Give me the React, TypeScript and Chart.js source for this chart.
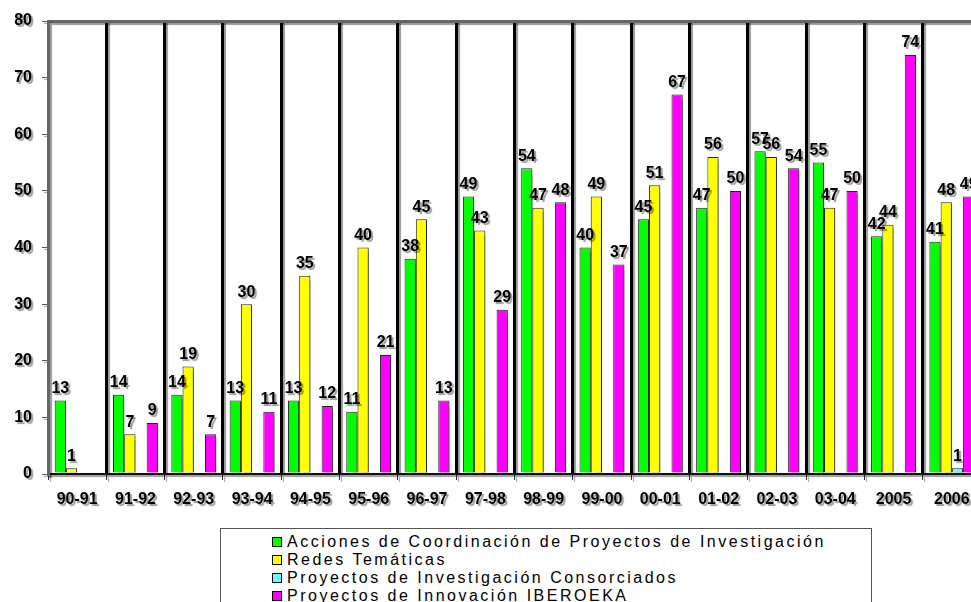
import React, { useEffect, useRef } from "react";
import { Chart, registerables } from "chart.js";

Chart.register(...registerables);

const categories = ["90-91", "91-92", "92-93", "93-94", "94-95", "95-96", "96-97", "97-98", "98-99", "99-00", "00-01", "01-02", "02-03", "03-04", "2005", "2006"];
const accionesCoordinacion = [13, 14, 14, 13, 13, 11, 38, 49, 54, 40, 45, 47, 57, 55, 42, 41];
const redesTematicas = [1, 7, 19, 30, 35, 40, 45, 43, 47, 49, 51, 56, 56, 47, 44, 48];
const proyectosConsorciados = [null, null, null, null, null, null, null, null, null, null, null, null, null, null, null, 1];
const proyectosIberoeka = [null, 9, 7, 11, 12, 21, 13, 29, 48, 37, 67, 50, 54, 50, 74, 49];
const yTicks = [0, 10, 20, 30, 40, 50, 60, 70, 80];

const seriesNames = [
  "Acciones de Coordinación de Proyectos de Investigación",
  "Redes Temáticas",
  "Proyectos de Investigación Consorciados",
  "Proyectos de Innovación IBEROEKA",
];
const seriesColors = ["#00FF00", "#FFFF00", "#66FFFF", "#FF00FF"];

const shadowPlugin = {
  id: "globalShadow",
  beforeDraw(chart: any) {
    const ctx = chart.ctx;
    ctx.save();
    ctx.shadowColor = "rgba(0,0,0,0.4)";
    ctx.shadowOffsetX = 2;
    ctx.shadowOffsetY = 2;
    ctx.shadowBlur = 1;
  },
  afterDraw(chart: any) {
    chart.ctx.restore();
  },
};

const valueLabelPlugin = {
  id: "valueLabels",
  afterDatasetsDraw(chart: any) {
    const ctx = chart.ctx;
    ctx.save();
    ctx.font = "bold 16px 'Liberation Sans', Arial, sans-serif";
    ctx.fillStyle = "#000";
    ctx.textAlign = "center";
    ctx.textBaseline = "bottom";
    chart.data.datasets.forEach((ds: any, di: number) => {
      const meta = chart.getDatasetMeta(di);
      meta.data.forEach((bar: any, i: number) => {
        const v = ds.data[i];
        if (v === null || v === undefined) return;
        ctx.fillText(String(v), bar.x, bar.y - 4);
      });
    });
    ctx.restore();
  },
};

export default function App() {
  const ref = useRef<HTMLCanvasElement | null>(null);
  useEffect(() => {
    if (!ref.current) return;
    const datasets = [accionesCoordinacion, redesTematicas, proyectosConsorciados, proyectosIberoeka].map((d, i) => ({
      label: seriesNames[i],
      data: d,
      backgroundColor: seriesColors[i],
      borderColor: "#222",
      borderWidth: 1,
      categoryPercentage: 0.77,
      barPercentage: 1,
    }));
    const chart = new Chart(ref.current, {
      type: "bar",
      data: { labels: categories, datasets },
      options: {
        animation: false,
        responsive: false,
        devicePixelRatio: 1,
        layout: { padding: { left: 0, top: 21, right: 9, bottom: 0 } },
        plugins: { legend: { display: false }, tooltip: { enabled: false } },
        scales: {
          x: {
            grid: {
              offset: true,
              color: (c: any) => (c.index === 0 ? "rgba(0,0,0,0)" : "#000"),
              lineWidth: 3,
              tickColor: "#333",
              tickWidth: 1,
              tickLength: 6,
              drawOnChartArea: true,
            },
            border: { color: "#111", width: 2 },
            ticks: {
              color: "#000",
              font: { family: "'Liberation Sans', Arial, sans-serif", size: 16, weight: "bold" },
              padding: 10,
              maxRotation: 0,
              autoSkip: false,
            },
            afterFit: (s: any) => {
              s.height = 128;
            },
          },
          y: {
            min: 0,
            max: 80,
            afterBuildTicks: (s: any) => {
              s.ticks = yTicks.map((v) => ({ value: v }));
            },
            grid: {
              color: (c: any) => (c.tick && c.tick.value === 80 ? "#666" : "rgba(0,0,0,0)"),
              lineWidth: 3,
              tickColor: "#555",
              tickWidth: 1,
              tickLength: 6,
            },
            border: { color: "#666", width: 3 },
            ticks: {
              color: "#000",
              font: { family: "'Liberation Sans', Arial, sans-serif", size: 16, weight: "bold" },
              padding: 10,
            },
            afterFit: (s: any) => {
              s.width = 48;
            },
          },
        },
      },
      plugins: [shadowPlugin, valueLabelPlugin],
    });
    return () => chart.destroy();
  }, []);

  return (
    <div style={{ position: "fixed", left: 0, top: 0, width: 971, height: 602, overflow: "hidden", background: "#fff" }}>
      <canvas ref={ref} width={990} height={602} style={{ position: "absolute", left: 0, top: 0, width: 990, height: 602 }} />
      <div
        style={{
          position: "absolute",
          left: 220,
          top: 528,
          width: 652,
          height: 120,
          border: "1px solid #555",
          boxSizing: "border-box",
          background: "#fff",
          fontFamily: "'Liberation Sans', Arial, sans-serif",
          fontSize: 16,
          letterSpacing: "2.5px",
          color: "#000",
        }}
      >
        {seriesNames.map((n, i) => (
          <div key={n} style={{ position: "absolute", left: 51, top: 4 + i * 18, height: 18, lineHeight: "18px", whiteSpace: "nowrap" }}>
            <span
              style={{
                display: "inline-block",
                width: 8,
                height: 8,
                background: seriesColors[i],
                border: "1px solid #000",
                marginRight: 5,
                verticalAlign: "middle",
                position: "relative",
                top: -1,
              }}
            />
            {n}
          </div>
        ))}
      </div>
    </div>
  );
}
